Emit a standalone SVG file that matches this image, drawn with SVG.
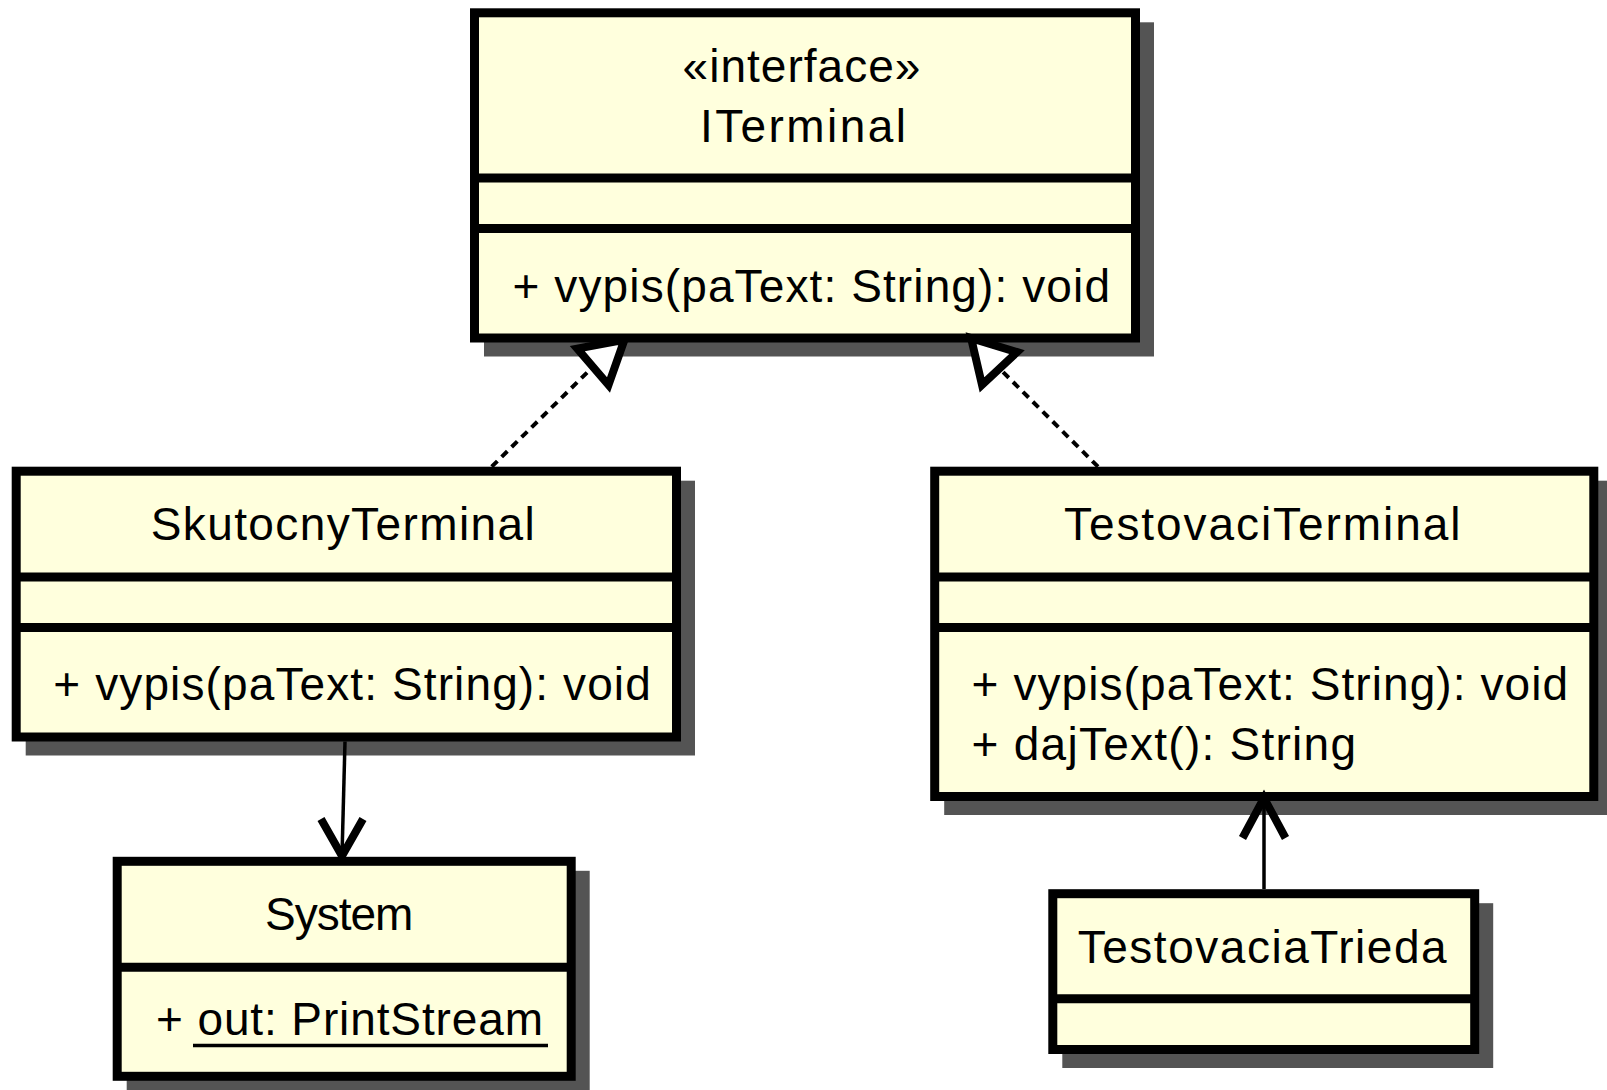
<svg xmlns="http://www.w3.org/2000/svg" width="1607" height="1090" viewBox="0 0 1607 1090">
  <style>
    .shadow { fill: #545454; stroke: none; }
    .box { fill: #FFFFDD; stroke: #000000; stroke-width: 9; }
    .sep { stroke: #000000; stroke-width: 9; }
    .label { font-family: "Liberation Sans", Arial, sans-serif; font-size: 46px; fill: #000000; }
    .dep { fill: none; stroke: #000000; stroke-width: 4; stroke-dasharray: 8 6; }
    .assoc { fill: none; stroke: #000000; stroke-width: 3.5; }
    .open { fill: none; stroke: #000000; stroke-width: 8; stroke-linejoin: miter; stroke-miterlimit: 10; }
    .realize { fill: #FFFFFF; stroke: #000000; stroke-width: 8; stroke-linejoin: miter; stroke-miterlimit: 10; }
    .uline { stroke: #000000; stroke-width: 3.5; }
  </style>
  <rect width="1607" height="1090" fill="#FFFFFF"/>

  <!-- interface ITerminal -->
  <g id="ITerminal">
    <rect class="shadow" x="484" y="22.3" width="670" height="334.2"/>
    <rect class="box" x="474.5" y="12.8" width="661" height="325.2"/>
    <line class="sep" x1="474.5" y1="178" x2="1135.5" y2="178"/>
    <line class="sep" x1="474.5" y1="228.5" x2="1135.5" y2="228.5"/>
    <text class="label" x="682.6" y="82" textLength="237.8" lengthAdjust="spacing">«interface»</text>
    <text class="label" x="700" y="141.5" textLength="206" lengthAdjust="spacing">ITerminal</text>
    <text class="label" x="512.5" y="302" textLength="597.5" lengthAdjust="spacing">+ vypis(paText: String): void</text>
  </g>

  <!-- class SkutocnyTerminal -->
  <g id="SkutocnyTerminal">
    <rect class="shadow" x="25.7" y="480.7" width="669.3" height="274.8"/>
    <rect class="box" x="16.2" y="471.2" width="660.3" height="265.8"/>
    <line class="sep" x1="16.2" y1="577" x2="676.5" y2="577"/>
    <line class="sep" x1="16.2" y1="627.5" x2="676.5" y2="627.5"/>
    <text class="label" x="150.7" y="540" textLength="384" lengthAdjust="spacing">SkutocnyTerminal</text>
    <text class="label" x="53.3" y="700" textLength="597.5" lengthAdjust="spacing">+ vypis(paText: String): void</text>
  </g>

  <!-- class TestovaciTerminal -->
  <g id="TestovaciTerminal">
    <rect class="shadow" x="944.2" y="480.7" width="668.1" height="334.3"/>
    <rect class="box" x="934.7" y="471.2" width="659.1" height="325.3"/>
    <line class="sep" x1="934.7" y1="577" x2="1593.8" y2="577"/>
    <line class="sep" x1="934.7" y1="627.5" x2="1593.8" y2="627.5"/>
    <text class="label" x="1064" y="540" textLength="396.5" lengthAdjust="spacing">TestovaciTerminal</text>
    <text class="label" x="971.6" y="700" textLength="596.5" lengthAdjust="spacing">+ vypis(paText: String): void</text>
    <text class="label" x="971.6" y="760" textLength="384.4" lengthAdjust="spacing">+ dajText(): String</text>
  </g>

  <!-- class System -->
  <g id="System">
    <rect class="shadow" x="126.7" y="870.8" width="463" height="224"/>
    <rect class="box" x="117.2" y="861.3" width="454" height="215"/>
    <line class="sep" x1="117.2" y1="967.2" x2="571.2" y2="967.2"/>
    <text class="label" x="265" y="930" textLength="148.3" lengthAdjust="spacing">System</text>
    <text class="label" x="156" y="1035" textLength="387" lengthAdjust="spacing">+ out: PrintStream</text>
    <line class="uline" x1="193" y1="1045.5" x2="548" y2="1045.5"/>
  </g>

  <!-- class TestovaciaTrieda -->
  <g id="TestovaciaTrieda">
    <rect class="shadow" x="1062.3" y="903.2" width="430.9" height="164.8"/>
    <rect class="box" x="1052.8" y="893.7" width="421.9" height="155.8"/>
    <line class="sep" x1="1052.8" y1="998.8" x2="1474.7" y2="998.8"/>
    <text class="label" x="1077.7" y="962.7" textLength="369" lengthAdjust="spacing">TestovaciaTrieda</text>
  </g>

  <!-- relationships -->
  <g id="connectors">
    <!-- realizations of ITerminal -->
    <line class="dep" x1="491.7" y1="466.7" x2="592.9" y2="366.8"/>
    <polygon class="realize" points="624.4,339.8 608.5,385.0 577.3,348.6"/>
    <line class="dep" x1="1098" y1="466.7" x2="999.5" y2="368.5"/>
    <polygon class="realize" points="971.1,338.1 1017.0,352.1 982.0,384.9"/>

    <!-- SkutocnyTerminal uses System -->
    <line class="assoc" x1="345" y1="741.5" x2="342" y2="856"/>
    <polyline class="open" points="321,819 342,856 363,819"/>

    <!-- TestovaciaTrieda uses TestovaciTerminal -->
    <line class="assoc" x1="1264" y1="889" x2="1264" y2="800"/>
    <polyline class="open" points="1242.5,838 1264,798 1285.5,838"/>
  </g>
</svg>
